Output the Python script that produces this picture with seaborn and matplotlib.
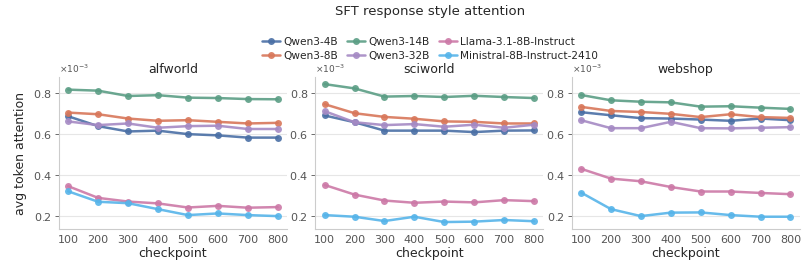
import numpy as np
import pandas as pd
import matplotlib
matplotlib.use("Agg")
import matplotlib.pyplot as plt
import seaborn as sns

checkpoints = [100, 200, 300, 400, 500, 600, 700, 800]
models = ["Qwen3-4B", "Qwen3-8B", "Qwen3-14B", "Qwen3-32B",
          "Llama-3.1-8B-Instruct", "Ministral-8B-Instruct-2410"]
envs = ["alfworld", "sciworld", "webshop"]

# avg token attention, in units of 1e-3
alfworld = {
    "Qwen3-4B": [0.685, 0.637, 0.611, 0.615, 0.598, 0.592, 0.581, 0.581],
    "Qwen3-8B": [0.703, 0.695, 0.674, 0.663, 0.666, 0.658, 0.650, 0.653],
    "Qwen3-14B": [0.815, 0.810, 0.784, 0.788, 0.776, 0.774, 0.769, 0.768],
    "Qwen3-32B": [0.660, 0.642, 0.650, 0.629, 0.637, 0.639, 0.623, 0.623],
    "Llama-3.1-8B-Instruct": [0.344, 0.287, 0.269, 0.260, 0.240, 0.248, 0.239, 0.242],
    "Ministral-8B-Instruct-2410": [0.319, 0.268, 0.261, 0.232, 0.203, 0.211, 0.203, 0.198],
}
sciworld = {
    "Qwen3-4B": [0.689, 0.656, 0.615, 0.615, 0.615, 0.608, 0.615, 0.616],
    "Qwen3-8B": [0.744, 0.700, 0.682, 0.673, 0.660, 0.658, 0.650, 0.650],
    "Qwen3-14B": [0.842, 0.821, 0.781, 0.784, 0.779, 0.785, 0.779, 0.774],
    "Qwen3-32B": [0.710, 0.656, 0.642, 0.647, 0.634, 0.644, 0.629, 0.644],
    "Llama-3.1-8B-Instruct": [0.350, 0.303, 0.274, 0.263, 0.269, 0.265, 0.276, 0.271],
    "Ministral-8B-Instruct-2410": [0.203, 0.195, 0.174, 0.195, 0.169, 0.171, 0.179, 0.173],
}
webshop = {
    "Qwen3-4B": [0.705, 0.690, 0.676, 0.674, 0.669, 0.663, 0.674, 0.666],
    "Qwen3-8B": [0.731, 0.711, 0.706, 0.697, 0.681, 0.695, 0.681, 0.677],
    "Qwen3-14B": [0.789, 0.763, 0.756, 0.753, 0.732, 0.734, 0.727, 0.721],
    "Qwen3-32B": [0.666, 0.627, 0.627, 0.658, 0.627, 0.626, 0.629, 0.632],
    "Llama-3.1-8B-Instruct": [0.429, 0.381, 0.368, 0.340, 0.318, 0.318, 0.311, 0.305],
    "Ministral-8B-Instruct-2410": [0.313, 0.232, 0.198, 0.215, 0.216, 0.203, 0.195, 0.195],
}

colors = ["#4a6fa5", "#d8775a", "#5b9e85", "#a58ac4", "#cc79a7", "#56b4e9"]

rows = []
for env, data in zip(envs, [alfworld, sciworld, webshop]):
    for m in models:
        for c, v in zip(checkpoints, data[m]):
            rows.append({"env": env, "model": m, "checkpoint": c, "attention": v * 1e-3})
df = pd.DataFrame(rows)

sns.set_theme(style="ticks")
plt.rcParams["font.family"] = ["DejaVu Sans"]

fig, axes = plt.subplots(1, 3, figsize=(8.07, 2.66), dpi=100)
fig.subplots_adjust(left=0.073, right=0.991, bottom=0.139, top=0.71, wspace=0.125)

for ax, env in zip(axes, envs):
    sns.lineplot(data=df[df["env"] == env], x="checkpoint", y="attention",
                 hue="model", hue_order=models, palette=colors,
                 marker="o", markersize=5, markeredgewidth=0, linewidth=1.8,
                 alpha=0.9, ax=ax, legend=(env == "alfworld"))
    ax.set_title(env, fontsize=9, pad=3)
    ax.set_xlabel("checkpoint", fontsize=9, labelpad=2)
    ax.set_ylabel("avg token attention" if env == "alfworld" else "", fontsize=9)
    ax.set_xticks(checkpoints)
    ax.set_yticks([0.2e-3, 0.4e-3, 0.6e-3, 0.8e-3])
    ax.set_ylim(0.135e-3, 0.876e-3)
    ax.set_xlim(69, 831)
    ax.ticklabel_format(axis="y", style="sci", scilimits=(-3, -3), useMathText=True)
    ax.yaxis.get_offset_text().set_fontsize(6.5)
    ax.yaxis.get_offset_text().set_color("#777777")
    ax.tick_params(labelsize=8, colors="#555555", length=3, width=0.6, pad=2)
    ax.tick_params(axis="x", length=0, pad=4)
    ax.grid(axis="y", color="#e6e6e6", linewidth=0.8)
    ax.set_axisbelow(True)
    for s in ["top", "right"]:
        ax.spines[s].set_visible(False)
    for s in ["left", "bottom"]:
        ax.spines[s].set_color("#cccccc")
        ax.spines[s].set_linewidth(0.8)

handles, labels = axes[0].get_legend_handles_labels()
axes[0].get_legend().remove()
fig.legend(handles, labels, loc="center", bbox_to_anchor=(0.533, 0.816),
           ncol=3, frameon=False, fontsize=7.6, handlelength=1.7,
           handletextpad=0.3, columnspacing=0.9, labelspacing=0.35,
           borderpad=0)
fig.text(0.533, 0.955, "SFT response style attention", fontsize=9.5,
         ha="center", va="center")

fig.savefig("out.png", dpi=100)
